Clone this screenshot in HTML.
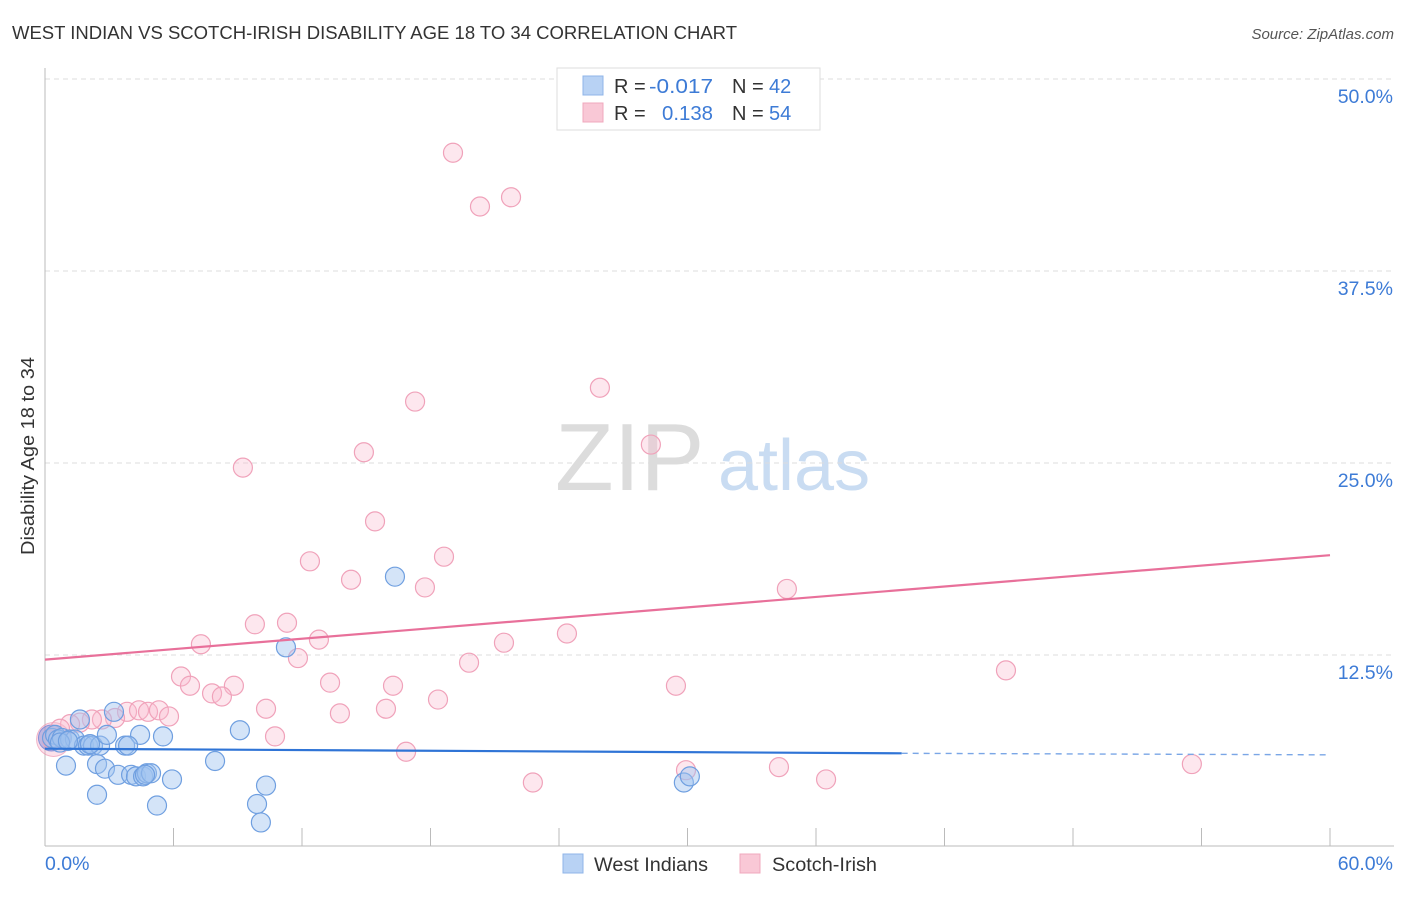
<!DOCTYPE html>
<html><head><meta charset="utf-8"><style>
body{margin:0;background:#fff;font-family:"Liberation Sans",sans-serif;}
svg text{font-family:"Liberation Sans",sans-serif;}
</style></head><body>
<svg id="chart" width="1406" height="892" xmlns="http://www.w3.org/2000/svg">
<text x="12" y="39" font-size="18" fill="#333" textLength="725" lengthAdjust="spacingAndGlyphs">WEST INDIAN VS SCOTCH-IRISH DISABILITY AGE 18 TO 34 CORRELATION CHART</text>
<text x="1394" y="39" font-size="15" fill="#555" font-style="italic" text-anchor="end">Source: ZipAtlas.com</text>
<text x="34" y="555" font-size="18" fill="#333" textLength="198" lengthAdjust="spacingAndGlyphs" transform="rotate(-90 34 555)">Disability Age 18 to 34</text>
<g>
<text x="555" y="490" font-size="96" font-family="Liberation Serif" fill="#dcdcdc">ZIP</text>
<text x="718" y="490" font-size="72" fill="#c9dcf2">atlas</text>
</g>
<g id="grid"></g><g id="axes"></g><g id="marks"></g>
<g>
<rect x="557" y="68" width="263" height="62" fill="#fff" stroke="#ddd"/>
<rect x="583" y="76" width="20" height="19" fill="#b8d2f4" stroke="#8fb4e8"/>
<rect x="583" y="103" width="20" height="19" fill="#f9c8d6" stroke="#f0a8bd"/>
<text x="614" y="93" font-size="20" fill="#333">R =</text>
<text x="649" y="93" font-size="20" fill="#3d7bd6" textLength="64" lengthAdjust="spacingAndGlyphs">-0.017</text>
<text x="732" y="93" font-size="20" fill="#333">N =</text>
<text x="769" y="93" font-size="20" fill="#3d7bd6">42</text>
<text x="614" y="120" font-size="20" fill="#333">R =</text>
<text x="662" y="120" font-size="20" fill="#3d7bd6" textLength="51" lengthAdjust="spacingAndGlyphs">0.138</text>
<text x="732" y="120" font-size="20" fill="#333">N =</text>
<text x="769" y="120" font-size="20" fill="#3d7bd6">54</text>
</g>
<g>
<rect x="563" y="854" width="20" height="19" fill="#b8d2f4" stroke="#8fb4e8"/>
<text x="594" y="871" font-size="19" fill="#333" textLength="114" lengthAdjust="spacingAndGlyphs">West Indians</text>
<rect x="740" y="854" width="20" height="19" fill="#f9c8d6" stroke="#f0a8bd"/>
<text x="772" y="871" font-size="19" fill="#333" textLength="105" lengthAdjust="spacingAndGlyphs">Scotch-Irish</text>
</g>
</svg>
<script>
const yTicks=[12.5,25,37.5,50];
const yTickLabels=["12.5%","25.0%","37.5%","50.0%"];
const xTickLabels=["0.0%","60.0%"];
const blueX=[0.33,0.47,0.61,0.79,0.98,1.17,1.40,1.63,1.82,2.01,2.24,2.43,2.43,2.57,2.80,2.89,3.22,3.41,3.74,4.02,4.25,4.44,4.58,4.76,4.95,5.23,5.51,5.93,7.94,9.10,9.90,10.08,10.32,11.25,16.34,29.83,30.11,0.70,1.07,2.10,3.88,4.67];
const blueY=[7.1,7.3,7.0,7.1,5.3,7.0,7.0,8.3,6.6,6.6,6.6,3.4,5.4,6.6,5.1,7.3,8.8,4.7,6.6,4.7,4.6,7.3,4.6,4.8,4.8,2.7,7.2,4.4,5.6,7.6,2.8,1.6,4.0,13.0,17.6,4.2,4.6,6.8,6.9,6.7,6.6,4.7];
const pinkX=[19.05,20.31,21.76,25.91,28.29,17.28,14.89,9.24,15.41,18.63,12.37,14.29,17.74,34.64,9.80,11.30,12.79,21.43,24.37,7.28,11.81,19.80,44.87,6.35,6.77,8.82,13.31,16.25,7.80,8.26,29.46,18.35,10.32,13.77,15.92,3.83,4.39,4.81,5.32,5.79,3.27,2.66,2.19,1.63,1.17,0.70,0.33,10.74,16.86,22.78,29.93,34.27,36.47,53.55];
const pinkY=[45.2,41.7,42.3,29.9,26.2,29.0,25.7,24.7,21.2,18.9,18.6,17.4,16.9,16.8,14.5,14.6,13.5,13.3,13.9,13.2,12.3,12.0,11.5,11.1,10.5,10.5,10.7,10.5,10.0,9.8,10.5,9.6,9.0,8.7,9.0,8.8,8.9,8.8,8.9,8.5,8.4,8.3,8.3,8.1,8.0,7.7,7.0,7.2,6.2,4.2,5.0,5.2,4.4,5.4];
const blueTrend=[6.4,6.1,6.0]; // at x=0, 40, 60
const pinkTrend=[12.2,19.0]; // at x=0, 60
const NS="http://www.w3.org/2000/svg";
const X=v=>45+v/60*1285, Y=v=>847-v/12.5*192;
function mk(t,a,p){const e=document.createElementNS(NS,t);for(const k in a)e.setAttribute(k,a[k]);p.appendChild(e);return e;}
const grid=document.getElementById('grid'),axes=document.getElementById('axes'),marks=document.getElementById('marks');
yTicks.forEach((t,i)=>{
 const l=mk('line',{x1:45,x2:1394,y1:Y(t),y2:Y(t),stroke:'#ddd','stroke-dasharray':'5,4'},grid);
 
 
 const tx=mk('text',{x:1393,y:Y(t)+24,'font-size':19.5,fill:'#3d7bd6','text-anchor':'end'},axes);
 tx.textContent=yTickLabels[i];
 
 
});
mk('line',{x1:45,x2:45,y1:68,y2:846,stroke:'#bbb'},axes);
mk('line',{x1:45,x2:1394,y1:846,y2:846,stroke:'#bbb'},axes);
for(let i=1;i<=10;i++){const t=mk('line',{x1:X(i*6),x2:X(i*6),y1:828,y2:846,stroke:'#bbb'},axes);
 
 }
const xl0=mk('text',{x:45,y:870,'font-size':19.5,fill:'#3d7bd6'},axes);xl0.textContent=xTickLabels[0];


const xl1=mk('text',{x:1393,y:870,'font-size':19.5,fill:'#3d7bd6','text-anchor':'end'},axes);xl1.textContent=xTickLabels[1];


mk('circle',{cx:X(0.4),cy:Y(7.0),r:17,fill:'rgba(245,170,195,0.35)',stroke:'rgba(235,140,170,0.6)'},marks);
mk('circle',{cx:X(0.3),cy:Y(7.1),r:13,fill:'rgba(120,130,210,0.45)',stroke:'rgba(100,120,210,0.7)'},marks);
pinkX.forEach((v,i)=>{const c=mk('circle',{cx:X(v),cy:Y(pinkY[i]),r:9.5,fill:'rgba(248,185,205,0.35)',stroke:'#f0a2ba','stroke-width':1.2},marks);
 
 });
blueX.forEach((v,i)=>{const c=mk('circle',{cx:X(v),cy:Y(blueY[i]),r:9.5,fill:'rgba(160,196,240,0.45)',stroke:'#6f9fe0','stroke-width':1.2},marks);
 
 });
const pl=mk('line',{x1:X(0),y1:Y(pinkTrend[0]),x2:X(60),y2:Y(pinkTrend[1]),stroke:'#e8709a','stroke-width':2.2},marks);


const bl=mk('line',{x1:X(0),y1:Y(blueTrend[0]),x2:X(40),y2:Y(blueTrend[1]),stroke:'#2f74d6','stroke-width':2.2},marks);


const bd=mk('line',{x1:X(40),y1:Y(blueTrend[1]),x2:X(60),y2:Y(blueTrend[2]),stroke:'#7aa6e6','stroke-width':1.4,'stroke-dasharray':'6,5'},marks);


</script>
</body></html>
